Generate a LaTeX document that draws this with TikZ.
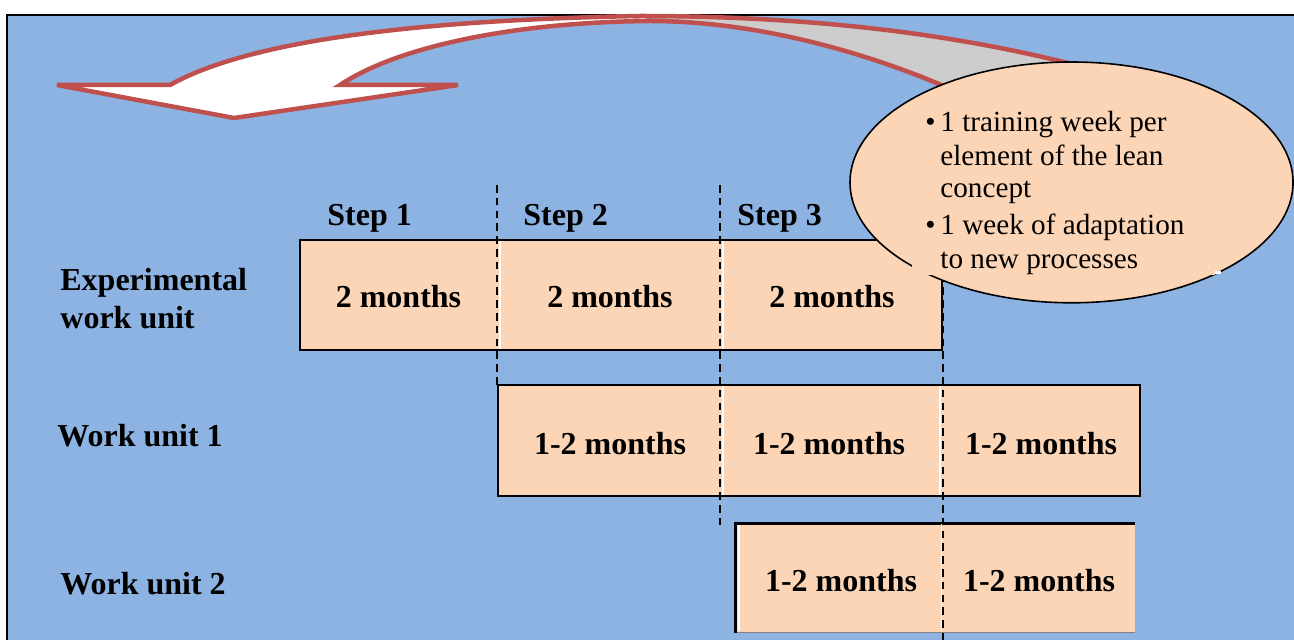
\documentclass[tikz,border=0pt]{standalone}
\usepackage{fontspec}
\setmainfont{Liberation Serif}
\definecolor{bg}{HTML}{8DB3E2}
\definecolor{peach}{HTML}{FBD5B5}
\definecolor{arrowred}{HTML}{C0504D}
\definecolor{backgray}{HTML}{CCCCCC}
\begin{document}
\begin{tikzpicture}[x=0.5pt,y=-0.5pt,
  lbl/.style={font=\fontsize{16}{18}\selectfont\bfseries, inner sep=0, anchor=base west},
  cell/.style={font=\fontsize{16}{18}\selectfont\bfseries, inner sep=0, anchor=base},
  note/.style={font=\fontsize{14.6}{16.5}\selectfont, inner sep=0, anchor=base west},
  divider/.style={line width=1.1pt, dash pattern=on 3.8pt off 2.6pt},
  cellgap/.style={white, line width=0.8pt},
  boxline/.style={line width=1pt, draw=black, fill=peach},
  ribbon/.style={draw=arrowred, line width=2.25pt, line join=miter}]

\useasboundingbox (0,0) rectangle (1294,640);
\fill[white] (0,0) rectangle (1294,640);
\fill[bg] (7,15) rectangle (1294,640);
\draw[line width=1.2pt] (7,640) -- (7,15) -- (1294,15);

% curved arrow: back side (gray) and front side (white)
\fill[backgray] (640,16) .. controls (830,16) and (990,38) .. (1130,80)
  -- (975,100) .. controls (880,55) and (760,21) .. (650,21) -- cycle;
\fill[white] (57,85) -- (170,85) .. controls (250,40) and (420,20) .. (640,16)
  -- (650,21) .. controls (520,22) and (400,45) .. (340,85)
  -- (458,85) -- (234,118) -- cycle;
\draw[ribbon] (1130,80) .. controls (990,38) and (830,16) .. (640,16)
  .. controls (420,20) and (250,40) .. (170,85) -- (57,85) -- (234,118)
  -- (458,85) -- (340,85) .. controls (400,45) and (520,22) .. (650,21)
  .. controls (760,21) and (880,55) .. (975,100);

% timeline bars
\path[boxline] (300,240) rectangle (942,350);
\path[boxline] (498,385) rectangle (1140,496);
\fill[peach] (736,523) rectangle (1135,632);
\draw[gray, line width=0.5pt] (736,632) -- (1135,632);
\draw[line width=1.5pt] (735,632.5) -- (735,523) -- (1135,523);
\draw[cellgap] (739,525) -- (739,631);

\draw[cellgap] (500,241) -- (500,349);
\draw[cellgap] (723,241) -- (723,349);
\draw[cellgap] (723,386) -- (723,495);
\draw[cellgap] (940,386) -- (940,495);
\draw[cellgap, line width=0.4pt] (941,524) -- (941,631);

% step boundaries
\draw[divider] (497,185) -- (497,385);
\draw[divider] (720,185) -- (720,530);
\draw[divider] (943,185) -- (943,640);

% step headings
\node[lbl] (s1) at (327,226) {Step 1};
\node[lbl] (s2) at (523,226) {Step 2};
\node[lbl] (s3) at (737,226) {Step 3};

% row headings
\node[lbl] (r0a) at (60,291) {Experimental};
\node[lbl] (r0b) at (60,329) {work unit};
\node[lbl] (r1) at (57,447) {Work unit 1};
\node[lbl] (r2) at (60,594) {Work unit 2};

% durations
\node[cell] (c11) at (398.5,308) {2 months};
\node[cell] (c12) at (610,308) {2 months};
\node[cell] (c13) at (832,308) {2 months};
\node[cell] (c21) at (610,454) {1-2 months};
\node[cell] (c22) at (829,454) {1-2 months};
\node[cell] (c23) at (1041,454) {1-2 months};
\node[cell] (c32) at (841,591) {1-2 months};
\node[cell] (c33) at (1039,591) {1-2 months};

% callout
\draw[fill=peach, line width=0.8pt] (1071.5,182.4) ellipse [x radius=110.75pt, y radius=60.2pt];
\fill[peach] (912,110) rectangle (1215,275);
\fill[white] (1215,271) rectangle (1221,274);

\node[note] (b1) at (925,132) {\textbullet};
\node[note] (t1) at (940,132) {1 training week per};
\node[note] (t2) at (940,166) {element of the lean};
\node[note] (t3) at (940,198) {concept};
\node[note] (b2) at (925,235) {\textbullet};
\node[note] (t4) at (940,235) {1 week of adaptation};
\node[note] (t5) at (940,269) {to new processes};
\end{tikzpicture}
\end{document}
